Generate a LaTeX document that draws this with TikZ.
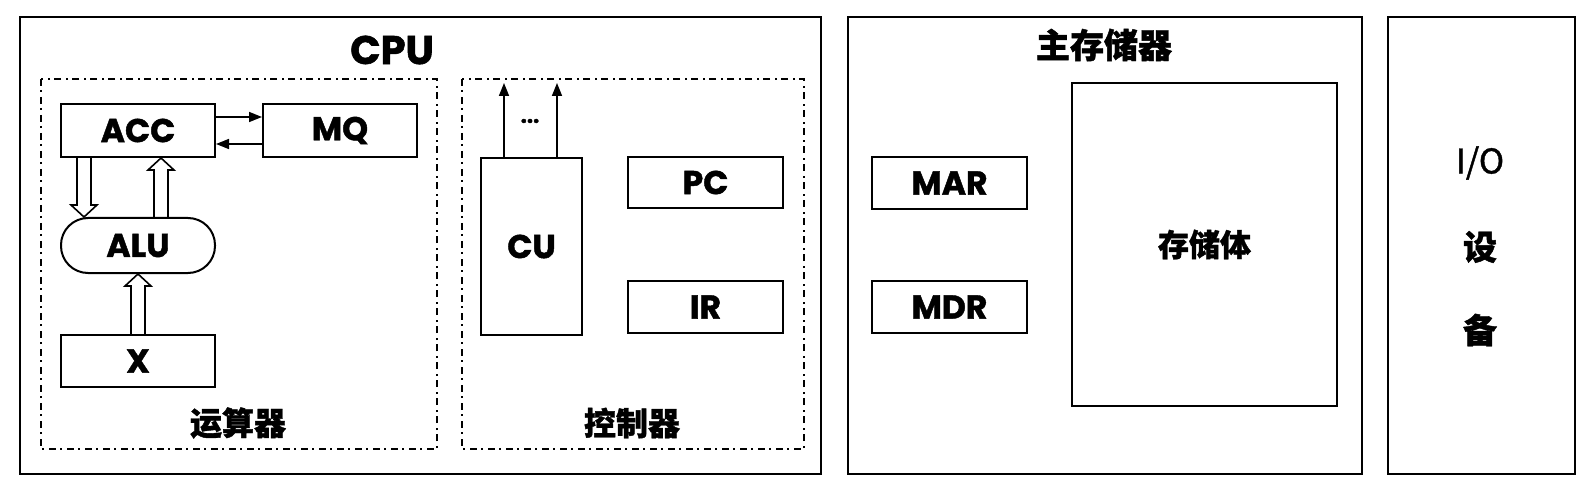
\documentclass[tikz,border=0pt]{standalone}
\usepackage{fontspec}
\newfontfamily\lat{Poppins}[BoldFeatures={FakeBold=1.3}]
\newfontfamily\cjk{Noto Sans CJK SC}[BoldFeatures={FakeBold=1.2}]
\newfontfamily\cjkmed{Noto Sans CJK SC}[FakeBold=1.2]
\usetikzlibrary{arrows.meta,calc}

\tikzset{
  reg/.style={draw,line width=1pt,inner sep=0pt,font=\lat\bfseries\fontsize{16.5}{18}\selectfont},
  frame/.style={draw,line width=1.3pt},
  part/.style={draw,line width=0.75pt,dash pattern=on 3.5pt off 2pt on 1pt off 2.5pt},
  zh/.style={font=\cjk\bfseries\fontsize{16}{18}\selectfont},
  wire/.style={line width=0.8pt,-{Triangle[length=6.5pt,width=5pt]}},
  bus/.style={line width=0.8pt,line join=miter},
}

% hollow bus arrow from #1 to #2
\newcommand\busarrow[2]{%
  \coordinate (bs) at (#1);
  \coordinate (bt) at (#2);
  \coordinate (bh) at ($(bt)!6pt!(bs)$);
  \draw[bus] ($(bs)!3.5pt!90:(bt)$) -- ($(bh)!3.5pt!90:(bt)$) -- ($(bh)!6.5pt!90:(bt)$) -- (bt)
    -- ($(bh)!6.5pt!-90:(bt)$) -- ($(bh)!3.5pt!-90:(bt)$) -- ($(bs)!3.5pt!-90:(bt)$);
}

\begin{document}
\begin{tikzpicture}[x=0.5pt,y=-0.5pt]
  \useasboundingbox (0,0) rectangle (1594,497);

  % frames
  \draw[frame] (20,17) rectangle (821,474);
  \draw[part] (41,79) rectangle (437,449);
  \draw[part] (462,79) rectangle (804,449);
  \draw[frame] (848,17) rectangle (1362,474);
  \draw[frame] (1388,17) rectangle (1575,474);

  \node[font=\lat\bfseries\fontsize{20}{22}\selectfont] (cpu) at (392,50) {CPU};
  \node[zh] (alulbl) at (238,423) {运算器};
  \node[zh] (cullbl) at (632,423) {控制器};
  \node[zh,font=\cjk\bfseries\fontsize{17}{19}\selectfont] (memlbl) at (1104,45) {主存储器};

  % ALU part
  \node[reg,minimum width=77pt,minimum height=26.5pt] (ACC) at (138,130.5) {ACC};
  \node[reg,minimum width=77pt,minimum height=26.5pt] (MQ) at (340,130.5) {MQ};
  \node[reg,rounded corners=13.5pt,minimum width=77pt,minimum height=27.5pt] (ALU) at (138,245.5) {ALU};
  \node[reg,minimum width=77pt,minimum height=26pt] (X) at (138,361) {X};

  \draw[wire] ([yshift=6.75pt]ACC.east) -- ([yshift=6.75pt]MQ.west);
  \draw[wire] ([yshift=-6.75pt]MQ.west) -- ([yshift=-6.75pt]ACC.east);
  \busarrow{[xshift=-27pt]ACC.south}{[xshift=-27pt]ALU.north}
  \busarrow{[xshift=11.5pt]ALU.north}{[xshift=11.5pt]ACC.south}
  \busarrow{X.north}{ALU.south}

  % control part
  \node[reg,minimum width=50.5pt,minimum height=88.5pt] (CU) at (531.5,246.5) {CU};
  \node[reg,minimum width=77.5pt,minimum height=25.5pt] (PC) at (705.5,182.5) {PC};
  \node[reg,minimum width=77.5pt,minimum height=26pt] (IR) at (705.5,307) {IR};

  \coordinate (cutop) at (531.5,83);
  \draw[wire] ([xshift=-13.75pt]CU.north) -- ([xshift=-13.75pt]CU.north |- cutop);
  \draw[wire] ([xshift=12.75pt]CU.north) -- ([xshift=12.75pt]CU.north |- cutop);
  \node[font=\lat\bfseries\fontsize{11}{12}\selectfont] (dots) at (530,121) {...};

  % main memory
  \node[reg,minimum width=77.5pt,minimum height=26pt] (MAR) at (949.5,183) {MAR};
  \node[reg,minimum width=77.5pt,minimum height=26pt] (MDR) at (949.5,307) {MDR};
  \node[reg,font=\cjk\bfseries\fontsize{15.5}{17}\selectfont,minimum width=132.5pt,minimum height=161.5pt] (MEM) at (1204.5,244.5) {存储体};

  % I/O
  \node[font=\cjkmed\fontsize{17}{19}\selectfont] (io) at (1480,163) {I/O};
  \node[zh,font=\cjk\bfseries\fontsize{17}{19}\selectfont] (she) at (1480,247) {设};
  \node[zh,font=\cjk\bfseries\fontsize{17}{19}\selectfont] (bei) at (1480,330) {备};

\end{tikzpicture}
\end{document}
